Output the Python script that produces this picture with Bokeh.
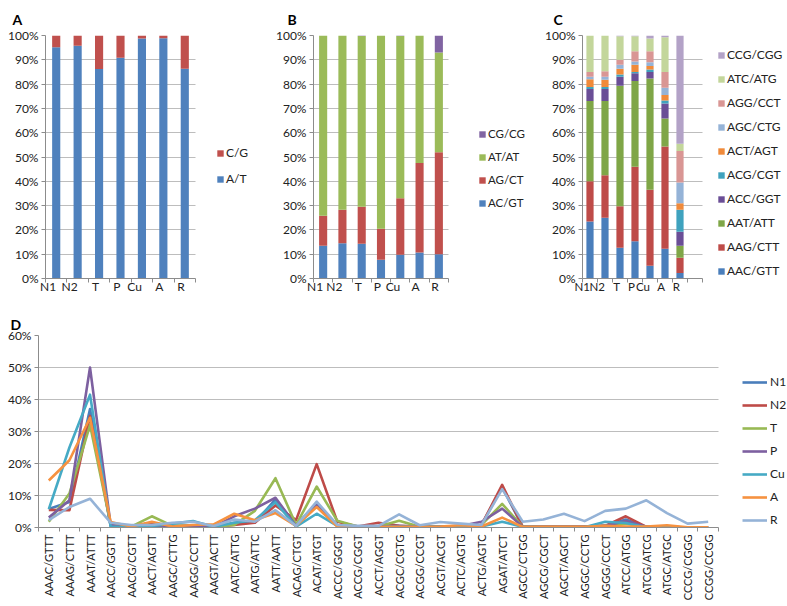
import math
from bokeh.plotting import figure
from bokeh.layouts import column, row
from bokeh.models import (ColumnDataSource, Legend, LegendItem, FixedTicker,
                          PrintfTickFormatter, Title, Range1d)
from bokeh.embed import file_html
from bokeh.resources import INLINE

FONT = "Lato"
TXT = "#222222"
GRID = "#BDBDBD"
AXIS = "#8C8C8C"

# ---------------- data ----------------
groups = ["N1", "N2", "T", "P", "Cu", "A", "R"]

# Panel A (mononucleotide, %)
a_labels = ["A/T", "C/G"]
a_at = [95.2, 95.8, 86.2, 90.8, 98.8, 98.9, 86.3]
a_cg = [4.8, 4.2, 13.8, 9.2, 1.2, 1.1, 13.7]

# Panel B (dinucleotide, %)
b_labels = ["AC/GT", "AG/CT", "AT/AT", "CG/CG"]
b_ac_gt = [13.5, 14.5, 14.3, 7.7, 9.8, 10.7, 10.0]
b_ag_ct = [12.3, 13.8, 15.2, 12.8, 23.2, 36.8, 42.0]
b_at_at = [74.2, 71.7, 70.3, 79.5, 66.8, 52.5, 41.0]
b_cg_cg = [0.0, 0.0, 0.2, 0.0, 0.2, 0.0, 7.0]

# Panel C (trinucleotide, %)
c_labels = ["AAC/GTT", "AAG/CTT", "AAT/ATT", "ACC/GGT", "ACG/CGT",
            "ACT/AGT", "AGC/CTG", "AGG/CCT", "ATC/ATG", "CCG/CGG"]
c_aac_gtt = [23.5, 25.0, 12.7, 15.3, 5.2, 12.2, 2.3]
c_aag_ctt = [16.5, 17.5, 17.0, 30.7, 31.3, 42.1, 6.2]
c_aat_att = [33.0, 30.5, 49.6, 35.3, 45.8, 11.5, 5.0]
c_acc_ggt = [5.0, 5.0, 3.7, 3.2, 2.7, 6.2, 5.7]
c_acg_cgt = [0.8, 0.8, 1.0, 0.5, 1.0, 1.3, 9.1]
c_act_agt = [3.2, 3.0, 2.3, 3.0, 1.5, 2.2, 2.7]
c_agc_ctg = [1.0, 1.2, 1.7, 1.3, 1.5, 3.0, 8.5]
c_agg_cct = [2.0, 2.3, 2.0, 4.2, 4.5, 6.5, 13.0]
c_atc_atg = [15.0, 14.7, 9.7, 6.2, 5.3, 14.3, 3.0]
c_ccg_cgg = [0.0, 0.0, 0.3, 0.3, 1.2, 0.7, 44.5]

# Panel D (tetranucleotide, %)
d_motifs = ["AAAC/GTTT", "AAAG/CTTT", "AAAT/ATTT", "AACC/GGTT", "AACG/CGTT",
            "AACT/AGTT", "AAGC/CTTG", "AAGG/CCTT", "AAGT/ACTT", "AATC/ATTG",
            "AATG/ATTC", "AATT/AATT", "ACAG/CTGT", "ACAT/ATGT", "ACCC/GGGT",
            "ACCG/CGGT", "ACCT/AGGT", "ACGC/CGTG", "ACGG/CCGT", "ACGT/ACGT",
            "ACTC/AGTG", "ACTG/AGTC", "AGAT/ATCT", "AGCC/CTGG", "AGCG/CGCT",
            "AGCT/AGCT", "AGGC/CCTG", "AGGG/CCCT", "ATCC/ATGG", "ATCG/ATCG",
            "ATGC/ATGC", "CCCG/CGGG", "CCGG/CCGG"]
d_n1 = [5.8, 8.0, 37.0, 0.5, 0.3, 1.0, 0.5, 0.5, 0.2, 1.5, 1.5, 8.8, 0.8, 7.4, 0.8, 0.3, 0.3,
        0.3, 0.2, 0.2, 0.3, 0.8, 12.6, 0.2, 0.2, 0.2, 0.2, 0.5, 2.5, 0.2, 0.2, 0.0, 0.0]
d_n2 = [5.5, 5.4, 34.8, 0.8, 0.3, 1.5, 0.3, 0.5, 0.2, 0.8, 1.5, 6.9, 2.3, 19.8, 1.8, 0.3, 1.5,
        0.5, 0.2, 0.2, 0.3, 0.8, 13.3, 0.2, 0.2, 0.2, 0.2, 0.5, 3.5, 0.2, 0.2, 0.0, 0.0]
d_t = [1.8, 10.6, 32.0, 1.0, 0.3, 3.5, 0.5, 0.5, 0.2, 0.8, 5.2, 15.4, 0.8, 12.8, 2.1, 0.3, 0.3,
       2.1, 0.2, 0.2, 0.3, 0.8, 7.4, 0.2, 0.2, 0.2, 0.2, 0.5, 1.2, 0.2, 0.2, 0.0, 0.0]
d_p = [3.1, 8.5, 50.0, 0.8, 0.3, 0.5, 0.3, 0.5, 0.2, 3.5, 5.9, 9.3, 0.5, 6.9, 0.5, 0.3, 0.3,
       0.5, 0.2, 0.2, 0.5, 1.8, 5.9, 0.2, 0.2, 0.2, 0.2, 0.5, 2.0, 0.2, 0.2, 0.0, 0.0]
d_cu = [5.7, 25.0, 41.5, 0.3, 0.2, 0.5, 1.2, 2.0, 0.2, 1.5, 2.3, 7.9, 0.3, 4.3, 0.5, 0.2, 0.2,
        0.2, 0.2, 0.2, 0.2, 0.3, 1.8, 0.2, 0.1, 0.1, 0.1, 1.8, 1.4, 0.1, 0.1, 0.0, 0.0]
d_a = [14.7, 21.0, 34.3, 1.7, 0.3, 1.8, 0.3, 0.8, 1.0, 4.3, 2.3, 4.5, 0.5, 6.4, 0.3, 0.2, 0.2,
       0.2, 0.2, 0.3, 0.7, 0.3, 3.1, 0.2, 0.2, 0.2, 0.2, 0.5, 0.3, 0.3, 0.7, 0.1, 0.1]
d_r = [2.3, 6.4, 9.0, 1.5, 0.8, 0.8, 1.5, 1.8, 0.5, 2.5, 1.8, 5.4, 0.5, 8.1, 0.8, 0.5, 0.5,
       4.1, 0.7, 1.7, 1.2, 0.8, 12.0, 1.8, 2.5, 4.3, 2.0, 5.2, 5.9, 8.5, 4.5, 1.2, 1.8]
d_series = [("N1", d_n1), ("N2", d_n2), ("T", d_t), ("P", d_p),
            ("Cu", d_cu), ("A", d_a), ("R", d_r)]

# ---------------- styling helpers ----------------
def style_axes(p, n_slots, labels, ymax, ystep, xlabel_size="12px",
               xorient=0.0, xstandoff=4):
    x_lo, x_hi = -0.5, n_slots - 0.5
    p.xgrid.visible = False
    p.ygrid.grid_line_color = GRID
    p.ygrid.grid_line_width = 1
    try:
        p.ygrid.cross_bounds = (x_lo, x_hi)
    except Exception:
        pass
    p.outline_line_color = None
    centers = list(range(len(labels)))
    bounds = [i - 0.5 for i in range(n_slots + 1)]
    xa = p.xaxis[0]
    xa.bounds = (x_lo, x_hi)
    xa.ticker = FixedTicker(ticks=centers, minor_ticks=bounds)
    xa.major_label_overrides = {i: lab for i, lab in enumerate(labels)}
    xa.major_tick_line_color = None
    xa.major_tick_in = 0
    xa.major_tick_out = 0
    xa.minor_tick_in = 0
    xa.minor_tick_out = 4
    xa.minor_tick_line_color = AXIS
    xa.axis_line_color = AXIS
    xa.major_label_text_font = FONT
    xa.major_label_text_font_size = xlabel_size
    xa.major_label_text_color = TXT
    xa.major_label_orientation = xorient
    xa.major_label_standoff = xstandoff
    ya = p.yaxis[0]
    yt = FixedTicker(ticks=list(range(0, ymax + 1, ystep)))
    ya.ticker = yt
    p.ygrid.ticker = yt
    ya.formatter = PrintfTickFormatter(format="%d%%")
    ya.minor_tick_line_color = None
    ya.major_tick_in = 0
    ya.major_tick_out = 4
    ya.major_tick_line_color = AXIS
    ya.axis_line_color = AXIS
    ya.major_label_standoff = 3
    ya.major_label_text_font = FONT
    ya.major_label_text_font_size = "12px"
    ya.major_label_text_color = TXT


def make_legend(items, vx, vy, spacing, glyph_w=8, glyph_h=8, standoff=2,
                font_size="12px"):
    lg = Legend(items=items, location=(vx, vy), orientation="vertical",
                glyph_width=glyph_w, glyph_height=glyph_h, label_height=glyph_h,
                spacing=spacing, padding=0, margin=0,
                label_standoff=standoff, border_line_color=None,
                background_fill_alpha=0, label_text_font=FONT,
                label_text_font_size=font_size, label_text_color=TXT,
                label_text_baseline="middle")
    return lg


def panel_title(text, offset, standoff):
    return Title(text=text, align="left", offset=offset, standoff=standoff,
                 text_font=FONT, text_font_style="bold", text_font_size="14px",
                 text_color="#000000")


def ext_range(n_slots, data_px, extra_px):
    lo, hi = -0.5, n_slots - 0.5
    return Range1d(lo, hi + extra_px * n_slots / data_px)


TOP_H = 311

# ---------------- Panel A ----------------
pA = figure(width=252, height=TOP_H, output_backend="svg", toolbar_location=None,
            x_range=ext_range(7, 150, 57), y_range=Range1d(0, 100),
            min_border_left=45, min_border_right=0, min_border_top=33,
            min_border_bottom=33, title=panel_title("A", -33, 16))
srcA = ColumnDataSource(dict(x=list(range(len(groups))), at=a_at, cg=a_cg))
rA = pA.vbar_stack(["at", "cg"], x="x", width=0.38, source=srcA,
                   color=["#4F81BD", "#C0504D"], line_color=None)
style_axes(pA, 7, groups, 100, 10)
pA.add_layout(make_legend([LegendItem(label=a_labels[1], renderers=[rA[1]]),
                           LegendItem(label=a_labels[0], renderers=[rA[0]])],
                          171, 92, 11))

# ---------------- Panel B ----------------
pB = figure(width=274, height=TOP_H, output_backend="svg", toolbar_location=None,
            x_range=ext_range(7, 135, 78), y_range=Range1d(0, 100),
            min_border_left=61, min_border_right=0, min_border_top=33,
            min_border_bottom=33, title=panel_title("B", -26, 16))
srcB = ColumnDataSource(dict(x=list(range(len(groups))), ac=b_ac_gt, ag=b_ag_ct,
                             at=b_at_at, cg=b_cg_cg))
rB = pB.vbar_stack(["ac", "ag", "at", "cg"], x="x", width=0.42, source=srcB,
                   color=["#4F81BD", "#C0504D", "#9BBB59", "#8064A2"], line_color=None)
style_axes(pB, 7, groups, 100, 10)
pB.add_layout(make_legend([LegendItem(label=b_labels[i], renderers=[rB[i]])
                           for i in range(3, -1, -1)], 165, 69, 10,
                          font_size="11.5px"))

# ---------------- Panel C ----------------
pC = figure(width=260, height=TOP_H, output_backend="svg", toolbar_location=None,
            x_range=ext_range(8, 120, 84), y_range=Range1d(0, 100),
            min_border_left=56, min_border_right=0, min_border_top=33,
            min_border_bottom=33, title=panel_title("C", -29, 16))
c_cols = [c_aac_gtt, c_aag_ctt, c_aat_att, c_acc_ggt, c_acg_cgt,
          c_act_agt, c_agc_ctg, c_agg_cct, c_atc_atg, c_ccg_cgg]
c_keys = ["s%d" % i for i in range(len(c_cols))]
srcC = ColumnDataSource(dict(x=list(range(len(groups))), **dict(zip(c_keys, c_cols))))
c_colors = ["#4A7EBB", "#BE4B48", "#7FA647", "#6A4E96", "#3FA2BE",
            "#F08A3A", "#95B3D7", "#D99694", "#C3D69B", "#B3A2C7"]
rC = pC.vbar_stack(c_keys, x="x", width=0.48, source=srcC, color=c_colors,
                   line_color=None)
style_axes(pC, 8, groups, 100, 10, xlabel_size="11.5px")
pC.add_layout(make_legend([LegendItem(label=c_labels[i], renderers=[rC[i]])
                           for i in range(9, -1, -1)], 135, 0, 9))

# ---------------- Panel D ----------------
pD = figure(width=786, height=294, output_backend="svg", toolbar_location=None,
            x_range=ext_range(len(d_motifs), 680, 68), y_range=Range1d(0, 60),
            min_border_left=38, min_border_right=0, min_border_top=22,
            min_border_bottom=78, title=panel_title("D", -28, 5))
d_colors = ["#4A7EBB", "#BE4B48", "#98B954", "#7D60A0", "#46AAC5", "#F69240", "#95B3D7"]
xs = list(range(len(d_motifs)))
d_items = []
for (name, vals), col in zip(d_series, d_colors):
    r = pD.line(xs, vals, line_color=col, line_width=2.6, line_join="round")
    d_items.append(LegendItem(label=name, renderers=[r]))
style_axes(pD, len(d_motifs), d_motifs, 60, 10, xlabel_size="11px",
           xorient=math.pi / 2, xstandoff=3)
pD.add_layout(make_legend(d_items, 704, 0, 8, glyph_w=25, glyph_h=12, standoff=3))

layout = column(row(pA, pB, pC), pD)

with open("out.html", "w") as f:
    f.write(file_html(layout, INLINE))
